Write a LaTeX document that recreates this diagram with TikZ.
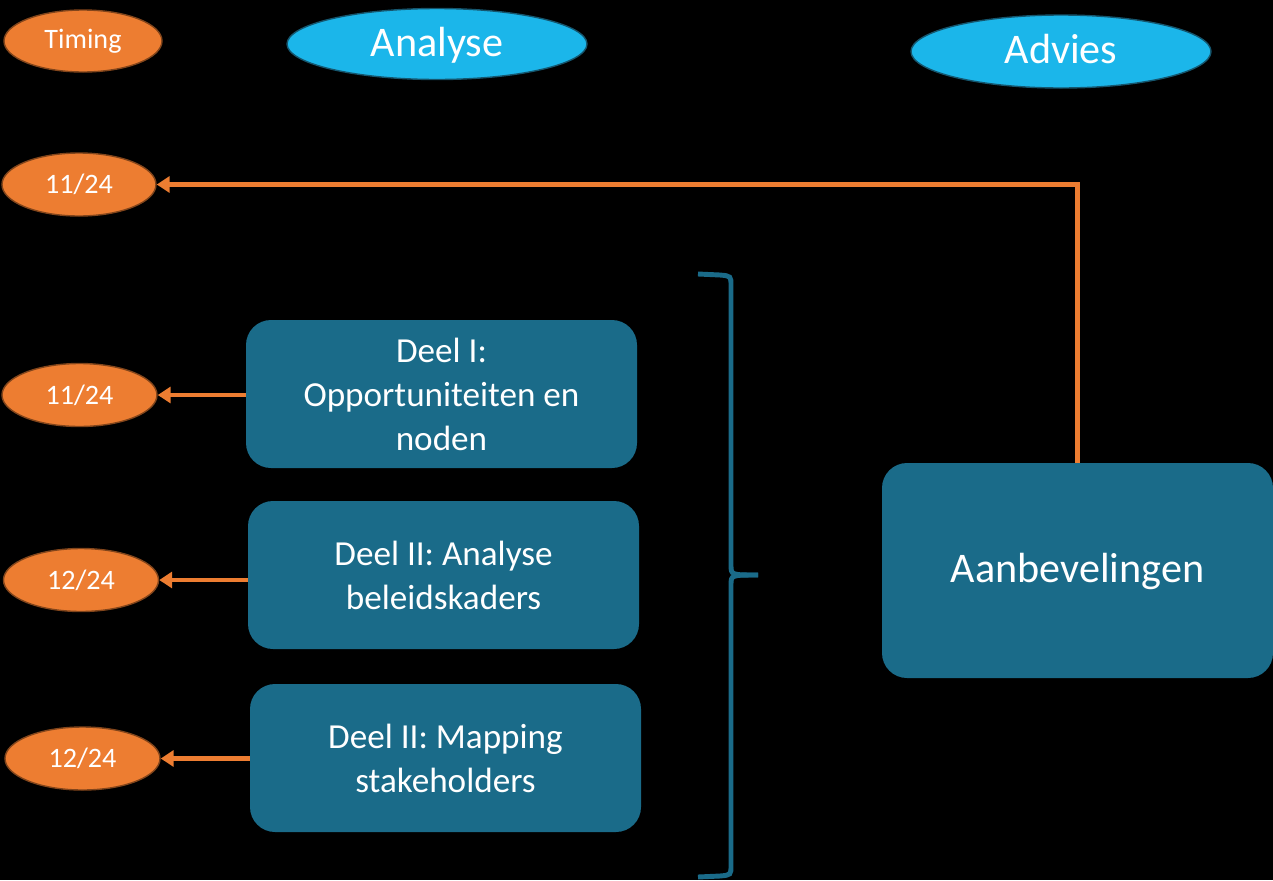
\documentclass[tikz,border=0pt]{standalone}
\usepackage{fontspec}
\setmainfont{Carlito}
\usetikzlibrary{shapes.geometric,arrows.meta}
\definecolor{oranje}{RGB}{237,125,49}
\definecolor{lichtblauw}{RGB}{27,182,234}
\definecolor{petrol}{RGB}{26,107,137}
\begin{document}
\begin{tikzpicture}[
	datum/.style={ellipse,fill=oranje,draw=oranje!55!black,line width=0.8pt,text=white,
		minimum width=3.1cm,minimum height=1.26cm,font=\fontsize{16}{19}\selectfont},
	fase/.style={ellipse,fill=lichtblauw,draw=petrol!80!black,line width=0.8pt,text=white,
		minimum width=6cm,minimum height=1.42cm,font=\fontsize{24}{29}\selectfont,text depth=0.1cm},
	deel/.style={rectangle,rounded corners=0.5cm,fill=petrol,text=white,align=center,
		minimum width=7.82cm,minimum height=2.96cm,font=\fontsize{20}{25}\selectfont},
	pijl/.style={oranje,line width=2.3pt,-{Triangle[length=0.26cm,width=0.32cm]}}]
	\fill[black] (0,0) rectangle (25.46,-17.6);
	\useasboundingbox (0,0) rectangle (25.46,-17.6);
	% kolomkoppen
	\node[datum,minimum width=3.16cm,minimum height=1.24cm] (timing) at (1.66,-0.82) {Timing};
	\node[fase] (analyse) at (8.74,-0.88) {Analyse};
	\node[fase,minimum height=1.46cm] (advies) at (21.22,-1.03) {Advies};
	% data
	\node[datum,minimum width=3.08cm] (d0) at (1.58,-3.69) {11/24};
	\node[datum] (d1) at (1.59,-7.9) {11/24};
	\node[datum] (d2) at (1.62,-11.6) {12/24};
	\node[datum] (d3) at (1.65,-15.17) {12/24};
	% analyse
	\node[deel] (deelA) at (8.83,-7.88) {Deel I:\\Opportuniteiten en\\noden};
	\node[deel] (deelB) at (8.87,-11.5) {Deel II: Analyse\\beleidskaders};
	\node[deel] (deelC) at (8.91,-15.16) {Deel II: Mapping\\stakeholders};
	% advies
	\node[deel,minimum height=4.3cm,text depth=0.12cm,font=\fontsize{24}{29}\selectfont] (aanbev) at (21.55,-11.41) {Aanbevelingen};
	% pijlen
	\draw[pijl] (deelA.west |- d1.east) -- (d1.east);
	\draw[pijl] (deelB.west |- d2.east) -- (d2.east);
	\draw[pijl] (deelC.west |- d3.east) -- (d3.east);
	\draw[pijl,rounded corners=0pt] (aanbev.north) |- (d0.east);
	% accolade
	\draw[petrol,line width=2.8pt] (13.96,-5.48) -- (14.4,-5.5) .. controls (14.62,-5.52) .. (14.62,-5.72)
		-- (14.62,-11.3) .. controls (14.62,-11.5) .. (15.16,-11.5);
	\draw[petrol,line width=2.8pt] (15.16,-11.5) .. controls (14.62,-11.5) .. (14.62,-11.7)
		-- (14.62,-17.3) .. controls (14.62,-17.5) .. (14.4,-17.52) -- (13.96,-17.54);
\end{tikzpicture}
\end{document}
